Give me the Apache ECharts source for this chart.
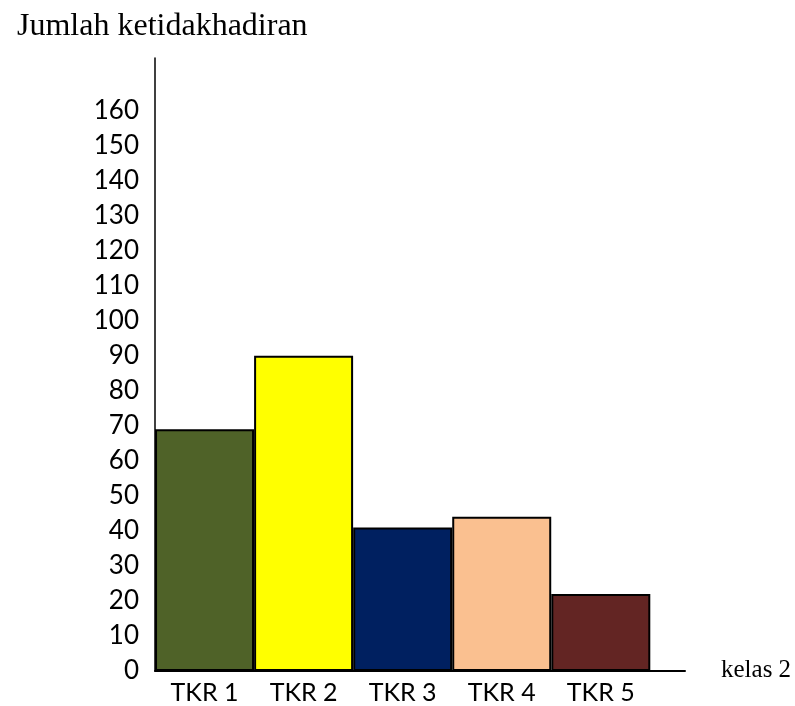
<!DOCTYPE html>
<html>
<head>
<meta charset="utf-8">
<script src="https://cdn.jsdelivr.net/npm/echarts@6/dist/echarts.min.js"></script>
<style>
  html, body { margin: 0; padding: 0; background: #fff; }
  #chart { width: 795px; height: 706px; }
</style>
</head>
<body>
<div id="chart"></div>
<script>
// data
const categories = ['TKR 1', 'TKR 2', 'TKR 3', 'TKR 4', 'TKR 5']
const absences = [69, 90, 41, 44, 22]
const barColors = ['#4F6228', '#FFFF00', '#002060', '#FAC090', '#632523']
const yTicks = [0, 10, 20, 30, 40, 50, 60, 70, 80, 90, 100, 110, 120, 130, 140, 150, 160]

const chart = echarts.init(document.getElementById('chart'))

// bars sit side by side, so x is a value axis with one unit per class
const barData = absences.map((v, i) => ({
  value: [i + 0.5, v],
  itemStyle: { color: barColors[i] }
}))

const option = {
  animation: false,
  title: [
    {
      text: 'Jumlah ketidakhadiran',
      left: 12,
      top: 6,
      textStyle: { fontFamily: 'Liberation Serif', fontSize: 32, fontWeight: 'normal', color: '#000' }
    },
    {
      text: 'kelas 2',
      left: 716,
      top: 653,
      textStyle: { fontFamily: 'Liberation Serif', fontSize: 25, fontWeight: 'normal', color: '#000' }
    }
  ],
  grid: { left: 155, right: 110, top: 58, bottom: 35 },
  xAxis: {
    type: 'value',
    min: 0,
    max: 5.35,
    splitLine: { show: false },
    axisTick: { show: false },
    axisLine: { show: true, onZero: false, lineStyle: { color: '#000', width: 2 } },
    axisLabel: {
      customValues: [0.5, 1.5, 2.5, 3.5, 4.5],
      formatter: v => categories[Math.floor(v)],
      fontFamily: 'Lato',
      fontSize: 25,
      color: '#000',
      margin: 9
    }
  },
  yAxis: {
    type: 'value',
    min: 0,
    max: 175,
    splitLine: { show: false },
    axisTick: { show: false },
    axisLine: { show: true, lineStyle: { color: '#000', width: 1.5 } },
    axisLabel: {
      customValues: yTicks,
      fontFamily: 'Lato',
      fontSize: 26,
      color: '#000',
      margin: 16
    }
  },
  series: [
    {
      type: 'bar',
      data: barData,
      barWidth: 99,
      itemStyle: { borderColor: '#000', borderWidth: 2 }
    }
  ]
}

chart.setOption(option)
</script>
</body>
</html>
